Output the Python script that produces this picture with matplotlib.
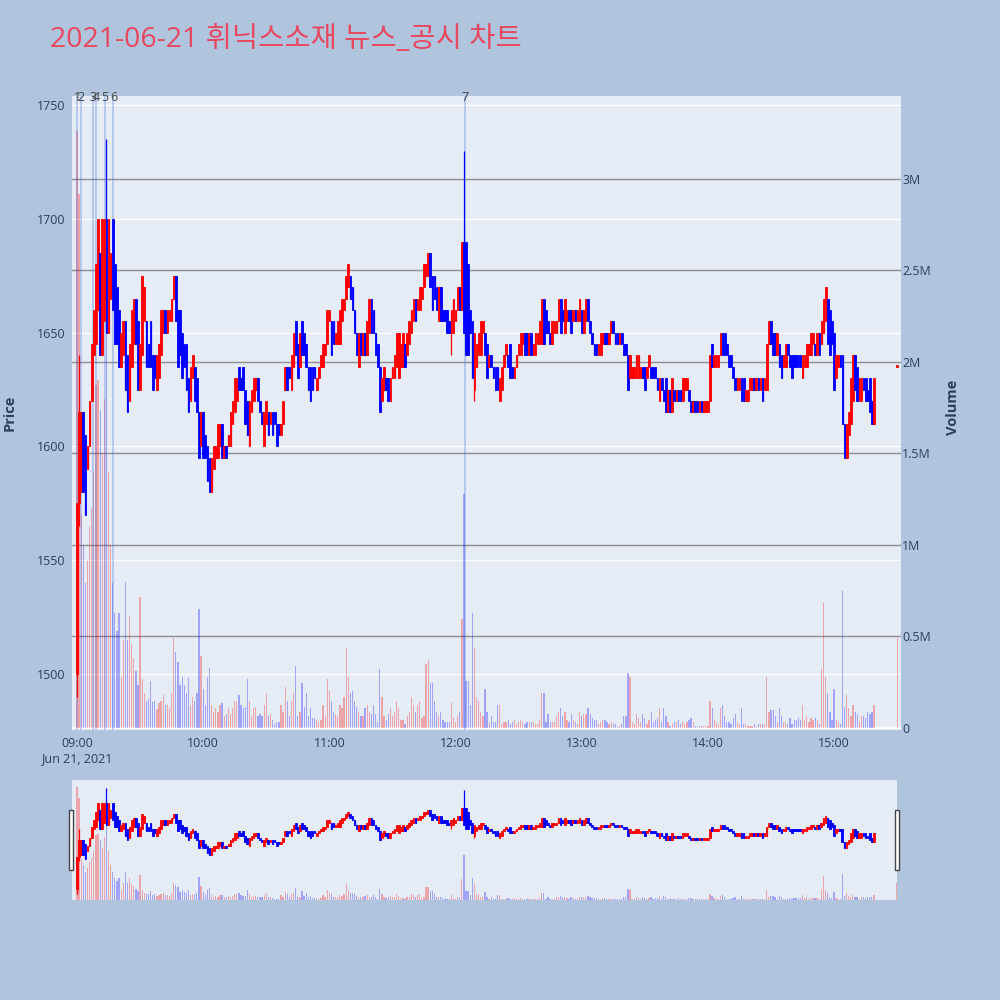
import numpy as np
import pandas as pd
import matplotlib
matplotlib.use('Agg')
import matplotlib.pyplot as plt
from matplotlib.lines import Line2D
from matplotlib.patches import Rectangle

plt.rcParams['font.family'] = ['Open Sans', 'Noto Sans CJK KR', 'DejaVu Sans']

title = '2021-06-21 휘닉스소재 뉴스_공시 차트'

# one candle per minute 09:00-15:19, then the 15:30 closing auction
times = list(pd.date_range('2021-06-21 09:00', '2021-06-21 15:19', freq='min')) + [pd.Timestamp('2021-06-21 15:30')]

opens = [
    # 09:00 - 10:36
    1500, 1575, 1580, 1615, 1605, 1590, 1600, 1620, 1640, 1645,
    1660, 1685, 1640, 1655, 1700, 1650, 1665, 1700, 1680, 1670,
    1660, 1635, 1640, 1655, 1640, 1620, 1635, 1645, 1665, 1655,
    1625, 1640, 1655, 1655, 1645, 1655, 1640, 1640, 1625, 1630,
    1640, 1650, 1660, 1650, 1655, 1655, 1665, 1675, 1660, 1660,
    1650, 1645, 1645, 1630, 1620, 1630, 1635, 1630, 1615, 1600,
    1615, 1605, 1600, 1595, 1580, 1590, 1595, 1595, 1600, 1610,
    1595, 1600, 1600, 1600, 1610, 1615, 1620, 1635, 1630, 1635,
    1625, 1620, 1600, 1615, 1620, 1625, 1630, 1620, 1615, 1600,
    1610, 1615, 1610, 1615, 1615, 1610, 1610,
    # 10:37 - 12:15
    1605, 1610, 1625, 1635, 1635, 1625, 1635, 1655, 1645, 1635,
    1655, 1650, 1645, 1635, 1635, 1635, 1635, 1625, 1630, 1635,
    1635, 1640, 1645, 1655, 1655, 1655, 1645, 1645, 1645, 1655,
    1660, 1665, 1670, 1675, 1670, 1660, 1650, 1635, 1650, 1640,
    1650, 1640, 1650, 1665, 1660, 1650, 1645, 1635, 1620, 1625,
    1630, 1630, 1620, 1630, 1630, 1635, 1630, 1635, 1635, 1645,
    1640, 1645, 1650, 1655, 1665, 1660, 1660, 1665, 1670, 1675,
    1675, 1685, 1675, 1675, 1670, 1655, 1670, 1660, 1660, 1660,
    1655, 1650, 1650, 1655, 1660, 1670, 1660, 1690, 1690, 1680,
    1660, 1655, 1625, 1635, 1640, 1640, 1650, 1650, 1645,
    # 12:16 - 13:53
    1635, 1640, 1635, 1635, 1635, 1620, 1625, 1635, 1640, 1640,
    1645, 1635, 1630, 1635, 1640, 1640, 1645, 1650, 1650, 1640,
    1650, 1640, 1640, 1645, 1645, 1645, 1665, 1660, 1655, 1650,
    1645, 1650, 1650, 1655, 1665, 1660, 1650, 1655, 1660, 1660,
    1655, 1660, 1655, 1655, 1660, 1650, 1655, 1665, 1655, 1650,
    1645, 1645, 1640, 1640, 1645, 1650, 1650, 1645, 1650, 1655,
    1650, 1650, 1645, 1650, 1645, 1645, 1640, 1630, 1630, 1630,
    1630, 1630, 1630, 1635, 1635, 1630, 1635, 1635, 1635, 1635,
    1630, 1620, 1630, 1625, 1630, 1615, 1625, 1615, 1625, 1620,
    1625, 1625, 1620, 1625, 1625, 1625, 1620, 1615,
    # 13:54 - 15:19
    1620, 1620, 1615, 1620, 1615, 1615, 1615, 1620, 1645, 1635,
    1635, 1635, 1640, 1650, 1650, 1645, 1640, 1640, 1635, 1630,
    1625, 1625, 1630, 1630, 1620, 1620, 1625, 1625, 1630, 1625,
    1630, 1625, 1630, 1625, 1625, 1645, 1655, 1650, 1650, 1640,
    1645, 1640, 1635, 1635, 1645, 1640, 1640, 1640, 1640, 1640,
    1640, 1630, 1635, 1635, 1640, 1640, 1645, 1645, 1640, 1650,
    1645, 1650, 1655, 1665, 1660, 1655, 1650, 1630, 1635, 1640,
    1640, 1610, 1595, 1605, 1610, 1620, 1640, 1635, 1620, 1620,
    1630, 1630, 1625, 1630, 1620, 1610,
    # 15:30
    1635,
]

closes = [
    1575, 1615, 1615, 1580, 1570, 1600, 1620, 1645, 1660, 1680,
    1700, 1640, 1700, 1700, 1650, 1700, 1685, 1660, 1645, 1645,
    1635, 1650, 1655, 1625, 1615, 1645, 1660, 1665, 1645, 1625,
    1645, 1675, 1670, 1635, 1635, 1635, 1625, 1630, 1640, 1645,
    1660, 1660, 1650, 1660, 1660, 1665, 1675, 1655, 1635, 1640,
    1630, 1635, 1625, 1615, 1635, 1640, 1620, 1615, 1595, 1615,
    1595, 1595, 1585, 1580, 1595, 1600, 1600, 1610, 1610, 1595,
    1600, 1595, 1605, 1615, 1620, 1630, 1630, 1625, 1625, 1625,
    1610, 1605, 1620, 1625, 1630, 1630, 1620, 1615, 1610, 1615,
    1620, 1605, 1615, 1605, 1610, 1600, 1605,

    1610, 1620, 1635, 1625, 1630, 1640, 1650, 1640, 1630, 1650,
    1640, 1640, 1635, 1625, 1620, 1625, 1630, 1630, 1635, 1640,
    1645, 1645, 1660, 1660, 1640, 1645, 1650, 1655, 1660, 1665,
    1665, 1675, 1680, 1665, 1660, 1650, 1640, 1650, 1640, 1650,
    1640, 1655, 1665, 1650, 1650, 1640, 1635, 1615, 1630, 1635,
    1625, 1620, 1630, 1635, 1640, 1650, 1650, 1645, 1650, 1635,
    1650, 1655, 1660, 1665, 1655, 1665, 1670, 1670, 1680, 1680,
    1685, 1670, 1660, 1665, 1660, 1670, 1655, 1655, 1655, 1650,
    1650, 1660, 1665, 1660, 1670, 1660, 1690, 1650, 1640, 1640,
    1650, 1630, 1650, 1645, 1650, 1655, 1655, 1640, 1630,

    1640, 1635, 1630, 1625, 1625, 1630, 1635, 1640, 1645, 1635,
    1630, 1630, 1635, 1640, 1645, 1650, 1650, 1640, 1640, 1650,
    1640, 1645, 1650, 1650, 1655, 1665, 1645, 1650, 1650, 1645,
    1655, 1655, 1655, 1665, 1650, 1655, 1665, 1660, 1655, 1650,
    1660, 1655, 1660, 1665, 1650, 1660, 1665, 1655, 1650, 1645,
    1640, 1640, 1645, 1650, 1650, 1645, 1645, 1650, 1655, 1650,
    1645, 1645, 1650, 1645, 1640, 1640, 1625, 1640, 1635, 1635,
    1640, 1640, 1635, 1630, 1625, 1635, 1640, 1630, 1630, 1630,
    1625, 1630, 1625, 1620, 1615, 1625, 1615, 1630, 1620, 1625,
    1620, 1620, 1630, 1630, 1630, 1620, 1615, 1620,

    1615, 1615, 1620, 1615, 1620, 1620, 1620, 1640, 1635, 1640,
    1640, 1640, 1650, 1640, 1640, 1640, 1635, 1635, 1630, 1625,
    1630, 1630, 1620, 1620, 1625, 1625, 1630, 1630, 1625, 1630,
    1625, 1630, 1620, 1630, 1645, 1655, 1645, 1640, 1640, 1650,
    1635, 1630, 1640, 1645, 1640, 1635, 1630, 1635, 1635, 1635,
    1635, 1640, 1640, 1645, 1645, 1650, 1650, 1640, 1650, 1640,
    1655, 1665, 1670, 1645, 1640, 1645, 1625, 1640, 1640, 1635,
    1610, 1595, 1610, 1615, 1630, 1640, 1625, 1620, 1630, 1630,
    1625, 1620, 1620, 1615, 1610, 1630,

    1635,
]

# long wicks that reach past the body (index -> price)
high_wicks = {1: 1640, 14: 1735, 184: 1730}
low_wicks = {0: 1490, 1: 1565, 178: 1640, 189: 1620}

# volume in thousands of shares
volumes_k = [
    3260, 2920, 1170, 1000, 790, 915, 1100, 1200, 1400, 1875,
    1900, 1735, 1500, 1800, 2300, 1400, 1000, 790, 630, 530,
    630, 280, 480, 800, 480, 610, 460, 380, 310, 235,
    715, 265, 190, 150, 160, 255, 140, 150, 105, 138,
    149, 180, 128, 128, 107, 192, 490, 415, 362, 234,
    277, 234, 192, 275, 128, 170, 149, 192, 650, 394,
    213, 128, 277, 330, 128, 85, 107, 85, 128, 138,
    64, 75, 107, 75, 107, 149, 149, 181, 128, 107,
    117, 266, 149, 64, 107, 117, 64, 75, 64, 128,
    192, 64, 75, 43, 21, 32, 32,

    128, 85, 224, 149, 64, 149, 192, 341, 64, 85,
    245, 117, 192, 64, 107, 53, 53, 43, 32, 43,
    128, 64, 266, 202, 149, 85, 75, 64, 128, 107,
    170, 437, 277, 192, 202, 149, 117, 85, 64, 64,
    107, 128, 85, 75, 128, 75, 32, 320, 170, 64,
    43, 75, 107, 64, 85, 149, 107, 43, 43, 21,
    64, 85, 170, 128, 85, 128, 149, 53, 64, 350,
    373, 245, 245, 149, 85, 64, 85, 43, 32, 32,
    32, 138, 53, 32, 64, 85, 596, 1278, 256, 256,
    128, 628, 437, 170, 149, 85, 64, 213, 85,

    32, 64, 32, 32, 128, 128, 21, 32, 32, 43,
    21, 32, 43, 21, 32, 43, 32, 21, 32, 32,
    32, 32, 21, 21, 43, 192, 192, 32, 75, 32,
    32, 32, 64, 85, 107, 64, 85, 43, 32, 75,
    43, 32, 21, 85, 64, 75, 75, 107, 75, 53,
    43, 43, 21, 32, 43, 43, 32, 21, 32, 21,
    21, 10, 10, 21, 64, 64, 298, 277, 32, 21,
    75, 53, 32, 75, 53, 21, 43, 85, 32, 43,
    53, 107, 32, 107, 64, 32, 10, 21, 32, 32,
    43, 21, 32, 21, 32, 43, 53, 32,

    10, 10, 10, 10, 10, 10, 10, 149, 107, 43,
    32, 21, 107, 128, 64, 32, 32, 21, 53, 75,
    32, 21, 107, 21, 21, 10, 10, 10, 21, 10,
    21, 21, 21, 21, 277, 85, 96, 96, 64, 32,
    107, 64, 32, 32, 21, 53, 21, 43, 43, 53,
    43, 128, 43, 64, 32, 53, 43, 53, 43, 21,
    320, 682, 277, 192, 85, 43, 213, 43, 32, 21,
    746, 117, 181, 107, 64, 128, 85, 75, 32, 64,
    64, 53, 85, 75, 85, 128,

    490,
]

news_times = ['09:00:10', '09:01:50', '09:07:45', '09:09:00', '09:13:20', '09:17:20', '12:04:40']
news_labels = ['1', '2', '3', '4', '5', '6', '7']

price_ticks = [1500, 1550, 1600, 1650, 1700, 1750]
vol_ticks = [0, 500000, 1000000, 1500000, 2000000, 2500000, 3000000]
vol_labels = ['0', '0.5M', '1M', '1.5M', '2M', '2.5M', '3M']
hour_labels = ['09:00\nJun 21, 2021', '10:00', '11:00', '12:00', '13:00', '14:00', '15:00']

t0 = pd.Timestamp('2021-06-21 09:00')
x = np.array([(t - t0).total_seconds() / 60 for t in times])
o = np.array(opens, dtype=float)
c = np.array(closes, dtype=float)
vol = np.array(volumes_k, dtype=float) * 1000
body_lo = np.minimum(o, c)
body_hi = np.maximum(o, c)
hi = body_hi.copy()
lo = body_lo.copy()
for k, v in high_wicks.items():
    hi[k] = v
for k, v in low_wicks.items():
    lo[k] = v
up = c >= o
colors = np.where(up, '#FF0000', '#0000FF')
news_x = [(pd.Timestamp('2021-06-21 ' + t) - t0).total_seconds() / 60 for t in news_times]

BG = '#B0C4DE'
PLOT_BG = '#E5ECF6'
FONT_C = '#2a3f5f'
P_LIM = (1475.4, 1754.0)
V_LIM = (-11000, 3453000)


def draw(axp, axv, body_lw):
    # volume bars behind, candles on top
    axv.bar(x, vol, width=0.6, color=colors, alpha=0.3, linewidth=0, zorder=2)
    axp.vlines(x, lo, hi, colors=colors, linewidth=0.9, zorder=3)
    axp.bar(x, np.maximum(body_hi - body_lo, 0.6), bottom=body_lo, width=0.8,
            color=colors, edgecolor=colors, linewidth=body_lw, zorder=4)


fig = plt.figure(figsize=(10, 10), dpi=100, facecolor=BG)

# main chart
ax = fig.add_axes([0.072, 0.270, 0.829, 0.634])
axv = ax.twinx()
ax.set_zorder(axv.get_zorder() + 1)
ax.patch.set_visible(False)
axv.patch.set_visible(True)
axv.set_facecolor(PLOT_BG)

for p in price_ticks:
    axv.add_line(Line2D([0, 1], [p, p], transform=ax.get_yaxis_transform(),
                        color='white', linewidth=1.0, zorder=0.5))
for v in vol_ticks[1:]:
    axv.axhline(v, color='#8f8f8f', linewidth=1.0, zorder=0.6)
axv.axhline(0, color='white', linewidth=1.6, zorder=0.6)

for nx in news_x:
    ax.axvline(nx, color='royalblue', alpha=0.35, linewidth=1.2, zorder=1)
for nx, lab in zip(news_x, news_labels):
    ax.text(nx, 0.9975, lab, transform=ax.get_xaxis_transform(), ha='center', va='center',
            fontsize=9, color='#444444')

draw(ax, axv, 0.6)

ax.set_xlim(-2.38, 391.8)
ax.set_ylim(*P_LIM)
axv.set_ylim(*V_LIM)

ax.set_yticks(price_ticks)
ax.set_xticks([0, 60, 120, 180, 240, 300, 360])
ax.set_xticklabels(hour_labels)
axv.set_yticks(vol_ticks)
axv.set_yticklabels(vol_labels)
ax.tick_params(axis='y', length=0, pad=4.5, labelsize=9, labelcolor=FONT_C)
ax.tick_params(axis='x', length=0, pad=5, labelsize=9, labelcolor=FONT_C)
axv.tick_params(axis='y', length=0, pad=1, labelsize=9, labelcolor=FONT_C)
for a in (ax, axv):
    for s in a.spines.values():
        s.set_visible(False)

fig.text(0.010, 0.587, 'Price', rotation=90, ha='center', va='center',
         fontsize=10.5, fontweight='bold', color=FONT_C)
fig.text(0.953, 0.593, 'Volume', rotation=90, ha='center', va='center',
         fontsize=10.5, fontweight='bold', color=FONT_C)
fig.text(0.050, 0.960, title, ha='left', va='center', fontsize=20.5, color='#E8485F')

# range slider
axs = fig.add_axes([0.072, 0.100, 0.825, 0.120])
axsv = axs.twinx()
axs.set_zorder(axsv.get_zorder() + 1)
axs.patch.set_visible(False)
axsv.patch.set_visible(True)
axsv.set_facecolor(PLOT_BG)
draw(axs, axsv, 0.6)
axs.set_xlim(-2.38, 390.0)
axs.set_ylim(*P_LIM)
axsv.set_ylim(*V_LIM)
for a in (axs, axsv):
    a.set_xticks([])
    a.set_yticks([])
    for s in a.spines.values():
        s.set_visible(False)

for hx in (0.069, 0.895):
    fig.patches.append(Rectangle((hx, 0.130), 0.004, 0.060, transform=fig.transFigure,
                                 facecolor='white', edgecolor='#444444', linewidth=1.0))

fig.savefig('out.png', dpi=100, facecolor=fig.get_facecolor())
